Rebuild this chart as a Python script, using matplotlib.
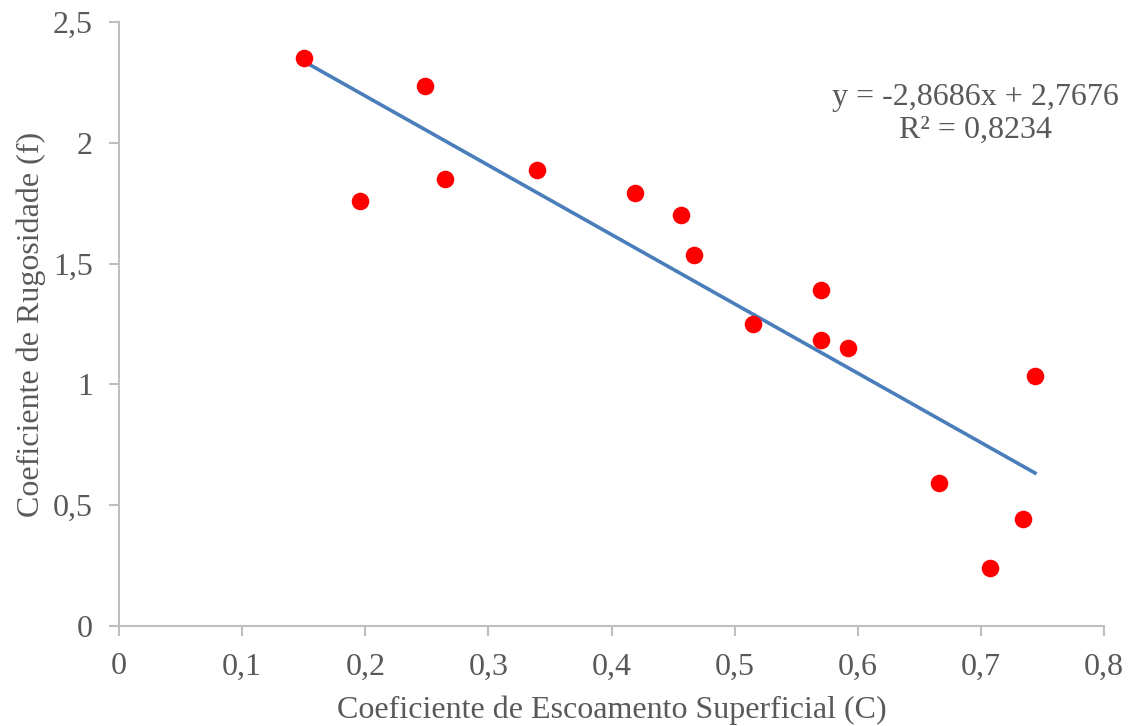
import matplotlib
matplotlib.use("Agg")
import matplotlib.pyplot as plt
import numpy as np

# escoamento superficial (C) x rugosidade (f)
coef_c = [0.150, 0.196, 0.2485, 0.265, 0.3395, 0.419, 0.4565, 0.467,
          0.515, 0.570, 0.570, 0.592, 0.666, 0.7075, 0.734, 0.744]
coef_f = [2.351, 1.759, 2.235, 1.850, 1.887, 1.792, 1.701, 1.536,
          1.250, 1.391, 1.184, 1.151, 0.592, 0.240, 0.443, 1.035]

slope = -2.8686
intercept = 2.7676
r2 = 0.8234

x_ticks = [0, 0.1, 0.2, 0.3, 0.4, 0.5, 0.6, 0.7, 0.8]
y_ticks = [0, 0.5, 1, 1.5, 2, 2.5]

plt.rcParams['font.family'] = ['Liberation Serif', 'DejaVu Serif']
gray = '#595959'
fs = 23

fig = plt.figure(figsize=(11.36, 7.26), dpi=100)
ax = fig.add_axes([0.1048, 0.1377, 0.867, 0.832])

ax.scatter(coef_c, coef_f, s=160, color='#FF0000', zorder=3, linewidths=0)

xs = np.array([min(coef_c), max(coef_c)])
ax.plot(xs, slope * xs + intercept, color='#4A7EBB', lw=2.6, zorder=2)

ax.set_xlim(0, 0.8)
ax.set_ylim(0, 2.5)
ax.set_xticks(x_ticks)
ax.set_yticks(y_ticks)
ax.set_xticklabels([('%g' % v).replace('.', ',') for v in x_ticks])
ax.set_yticklabels([('%g' % v).replace('.', ',') for v in y_ticks])

for side in ['top', 'right']:
    ax.spines[side].set_visible(False)
for side in ['left', 'bottom']:
    ax.spines[side].set_color('#BFBFBF')
    ax.spines[side].set_linewidth(1.5)
ax.tick_params(axis='both', colors='#BFBFBF', width=1.5, length=7,
               labelsize=fs, labelcolor=gray)
ax.tick_params(axis='y', pad=12)
ax.tick_params(axis='x', pad=12)

ax.set_xlabel('Coeficiente de Escoamento Superficial (C)', fontsize=fs,
              color=gray, labelpad=10)
ax.set_ylabel('Coeficiente de Rugosidade (f)', fontsize=fs,
              color=gray, labelpad=5)

eq = 'y = %s%sx + %s\nR² = %s' % ('-', str(abs(slope)).replace('.', ','),
                                  str(intercept).replace('.', ','),
                                  str(r2).replace('.', ','))
ax.text(0.696, 2.12, eq, fontsize=fs, color=gray, ha='center', va='center',
        linespacing=1.2)

fig.savefig('out.png', dpi=100)
